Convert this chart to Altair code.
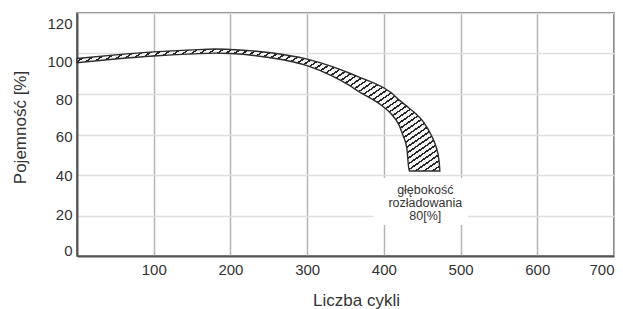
import altair as alt
import pandas as pd

# ---- data ----
cycles = [0, 50, 100, 150, 180, 200, 250, 300, 333, 354, 367, 400, 410, 420, 425, 430, 433, 441, 452, 462, 468, 472, 473]
cap_upper = [97.5, 99.3, 100.8, 101.8, 102.2, 102.0, 100.5, 97.2, 93.5, 90.5, 88.5, 83.0, 80.5, 77.0, 75.5, 74.0, 73.0, 70.5, 66.0, 59.5, 54.0, 47.0, 42.0]
cap_lower = [95.5, 97.3, 98.8, 99.8, 100.2, 100.0, 98.0, 94.0, 88.8, 84.5, 81.3, 73.5, 70.0, 64.5, 59.5, 53.0, 42.0, 42.0, 42.0, 42.0, 42.0, 42.0, 42.0]

x_ticks = [100, 200, 300, 400, 500, 600, 700]
y_ticks = [0, 20, 40, 60, 80, 100, 120]

note_text = ["głębokość", "rozładowania", "80[%]"]
note_x = [454]
note_y = [32.6]
note_box_x = [386]
note_box_x2 = [510]
note_box_y = [15.3]
note_box_y2 = [38.5]

band = pd.DataFrame({"cycles": cycles, "upper": cap_upper, "lower": cap_lower})
note = pd.DataFrame({"x": note_x, "y": note_y, "label": ["\n".join(note_text)]})
box = pd.DataFrame({"x": note_box_x, "x2": note_box_x2, "y": note_box_y, "y2": note_box_y2})

# ---- hatch pattern via striped linear gradient (style) ----
n_stripes = 63
w = 0.32 / n_stripes
light, dark = "#f4f4f4", "#262626"
stops = []
for i in range(n_stripes):
    s = i / n_stripes
    stops += [
        alt.GradientStop(offset=s, color=light),
        alt.GradientStop(offset=s, color=dark),
        alt.GradientStop(offset=min(s + w, 1), color=dark),
        alt.GradientStop(offset=min(s + w, 1), color=light),
    ]
stops.append(alt.GradientStop(offset=1, color=light))
hatch = alt.LinearGradient(gradient="linear", x1=0, y1=0, x2=1.202, y2=0.582, stops=stops)

xscale = alt.Scale(domain=[0, 700], nice=False, zero=False)
yscale = alt.Scale(domain=[0, 120], nice=False)

label_shift = {
    "condition": [
        {"test": "datum.value == 120", "value": 10},
        {"test": "datum.value == 100", "value": 8},
        {"test": "datum.value == 80", "value": 5},
        {"test": "datum.value == 60", "value": 2},
        {"test": "datum.value == 20", "value": -1},
        {"test": "datum.value == 0", "value": -6},
    ],
    "value": 0,
}

xaxis = alt.Axis(
    values=x_ticks, title="Liczba cykli", ticks=False, labelPadding=6, labelFlush=True,
    labelFontSize=15, titleFontSize=17, titleFontWeight="normal",
    titleX=279, titleY=44, titleBaseline="middle", titleAlign="center",
    gridColor="#b4b4b4", gridWidth=1.5, domainColor="#555555", domainWidth=2,
    labelColor="#333333", titleColor="#333333",
)
yaxis = alt.Axis(
    values=y_ticks, title="Pojemność [%]", ticks=False, labelPadding=5,
    labelFontSize=15, titleFontSize=17, titleFontWeight="normal",
    titleX=-57, titleY=114, titleBaseline="middle", titleAlign="center", titleAngle=-90,
    gridColor="#dedede", gridWidth=1.5, domainColor="#555555", domainWidth=2,
    labelColor="#333333", titleColor="#333333", labelOffset=label_shift,
)

area = alt.Chart(band).mark_area(
    fill=hatch, stroke="#2e2e2e", strokeWidth=1.4, interpolate="monotone"
).encode(
    x=alt.X("cycles:Q", scale=xscale, axis=xaxis),
    y=alt.Y("upper:Q", scale=yscale, axis=yaxis),
    y2="lower:Q",
)

rect = alt.Chart(box).mark_rect(fill="white").encode(
    x=alt.X("x:Q", scale=xscale), x2="x2:Q",
    y=alt.Y("y:Q", scale=yscale), y2="y2:Q",
)

text = alt.Chart(note).mark_text(
    fontSize=12.5, lineHeight=13, lineBreak="\n", align="center", baseline="middle",
    color="#333333", font="Liberation Sans",
).encode(
    x=alt.X("x:Q", scale=xscale), y=alt.Y("y:Q", scale=yscale), text="label:N"
)

chart = alt.layer(rect, area, text).properties(
    width=537, height=243,
    autosize=alt.AutoSizeParams(type="none"),
    padding={"left": 69, "top": 5, "right": 1, "bottom": 53},
).configure(
    font="Liberation Sans",
).configure_view(
    stroke="#555555", strokeWidth=1.5,
)

chart.save("out.html", embed_options={"renderer": "svg", "actions": False})
